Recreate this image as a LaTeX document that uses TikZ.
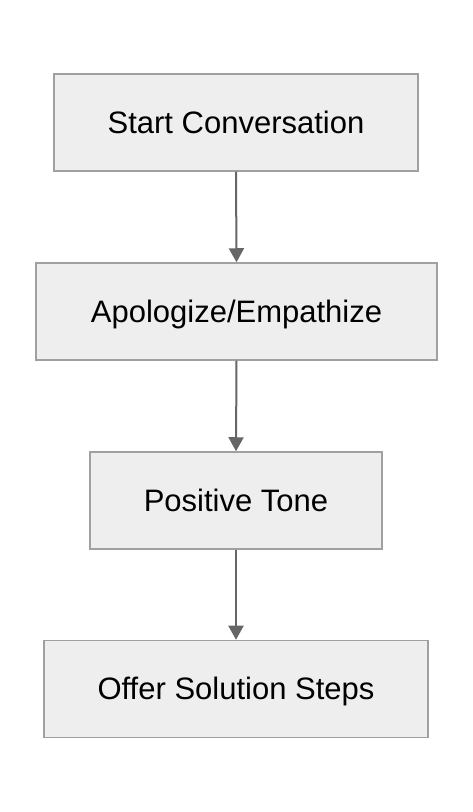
\documentclass[tikz,border=0pt]{standalone}
\usepackage{fontspec}
\setmainfont{Liberation Sans}
\usetikzlibrary{arrows.meta}
\definecolor{boxfill}{HTML}{EEEEEE}
\definecolor{boxline}{HTML}{A0A0A0}
\definecolor{arrowc}{HTML}{666666}
\tikzset{
  stepbox/.style={draw=boxline, fill=boxfill, line width=1.5pt, minimum height=97pt, inner sep=0pt,
    font=\fontsize{31}{37}\selectfont, text=black},
  lbl/.style={font=\fontsize{31}{37}\selectfont, text=black, inner sep=0pt},
  flow/.style={draw=arrowc, line width=2pt, -{Triangle[width=15pt,length=14pt]}}
}
\begin{document}
\begin{tikzpicture}[x=1pt,y=1pt]
\useasboundingbox (0,0) rectangle (472,812);
\fill[white] (0,0) rectangle (472,812);
\node[stepbox, minimum width=364pt] (a) at (236,689.5) {};
\node[stepbox, minimum width=401pt] (b) at (236.5,500.5) {};
\node[stepbox, minimum width=292pt] (c) at (236,311.5) {};
\node[stepbox, minimum width=384pt] (d) at (236,123) {};
\node[lbl, anchor=base] (ta) at ([yshift=-11pt]a.center) {Start Conversation};
\node[lbl, anchor=base] (tb) at ([yshift=-11pt]b.center) {Apologize/Empathize};
\node[lbl, anchor=base] (tc) at ([yshift=-11pt]c.center) {Positive Tone};
\node[lbl, anchor=base] (td) at ([yshift=-11pt]d.center) {Offer Solution Steps};
\draw[flow] (a.south) -- (b.north);
\draw[flow] (b.south) -- (c.north);
\draw[flow] (c.south) -- (d.north);
\end{tikzpicture}
\end{document}
